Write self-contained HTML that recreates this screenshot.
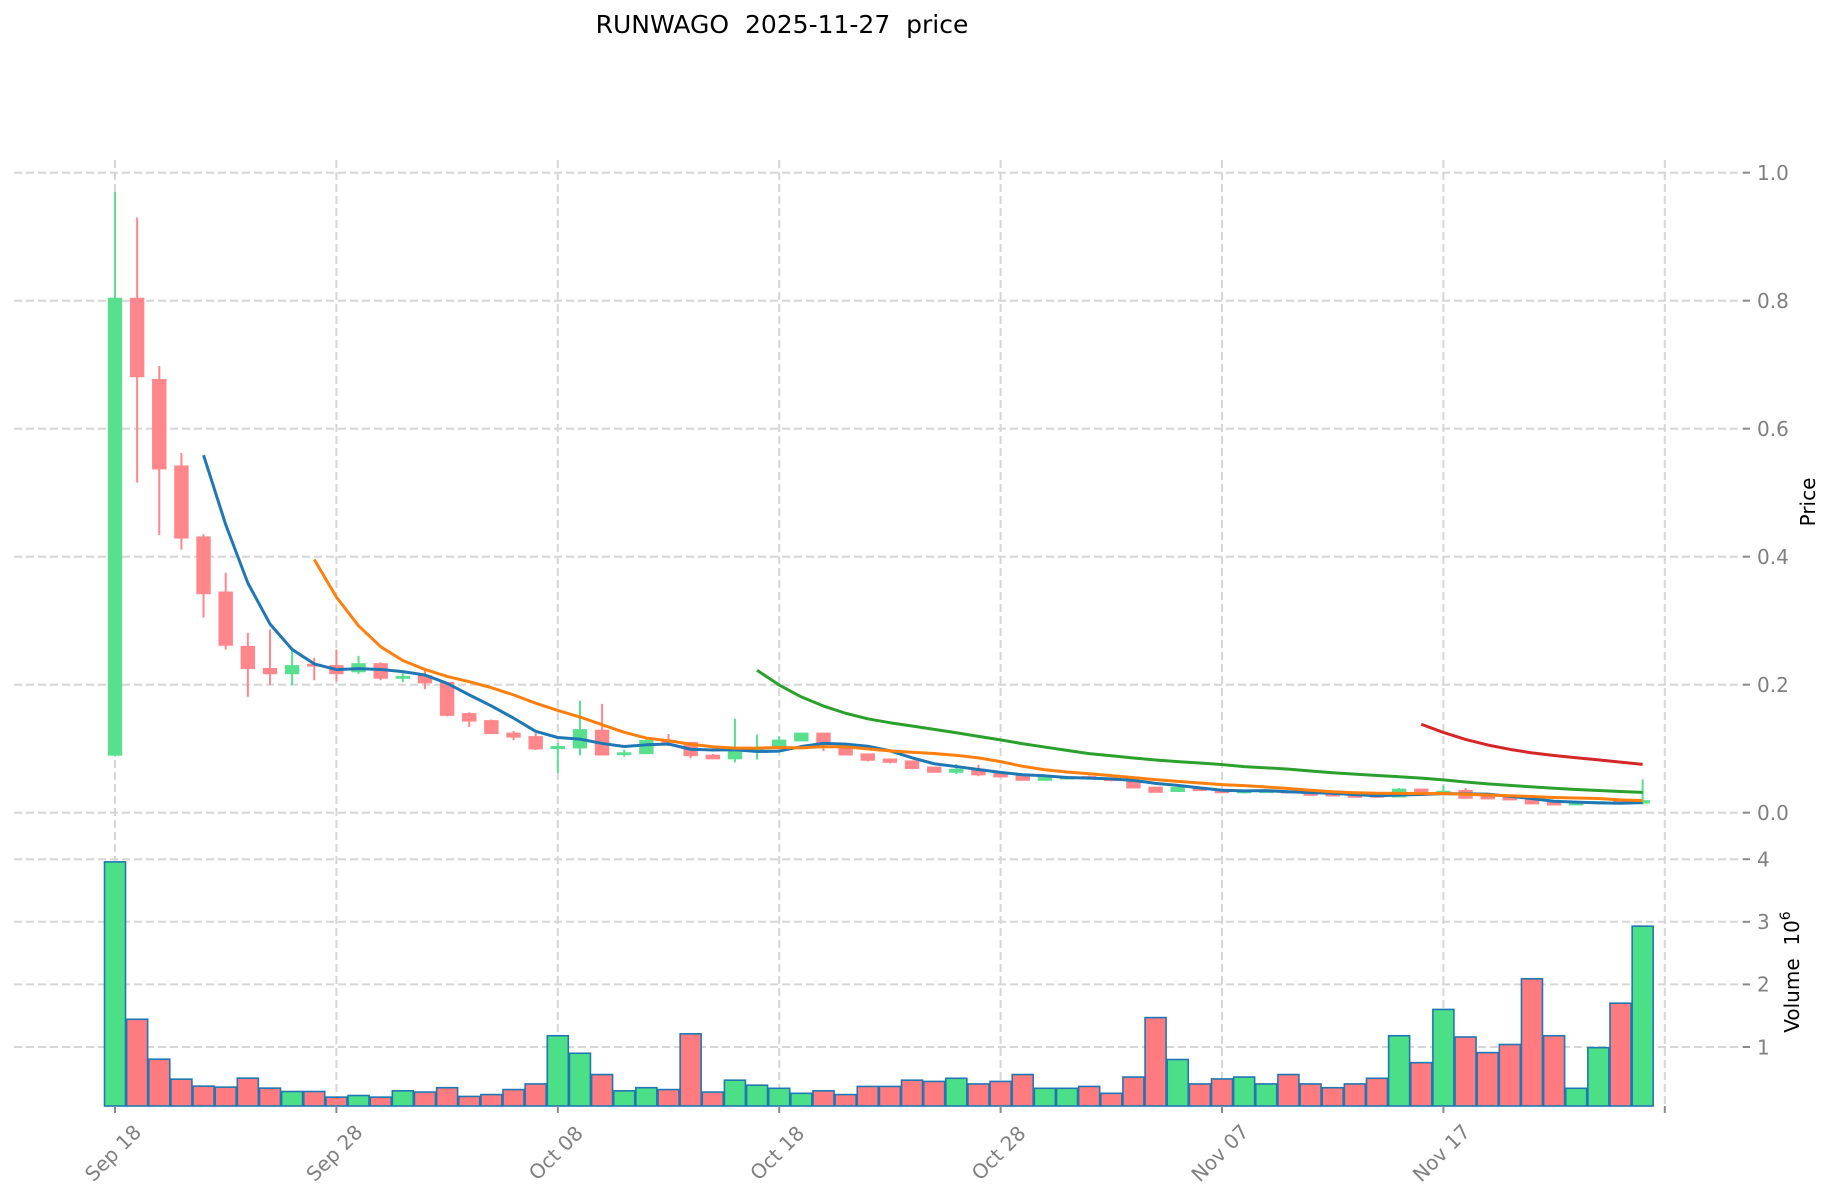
<!DOCTYPE html>
<html>
<head>
<meta charset="utf-8">
<style>
html,body{margin:0;padding:0;background:#ffffff;}
body{width:1834px;height:1202px;overflow:hidden;position:relative;font-family:"DejaVu Sans","Liberation Sans",sans-serif;}
svg{position:absolute;left:0;top:0;}
text{font-family:"DejaVu Sans","Liberation Sans",sans-serif;}
</style>
</head>
<body>
<svg id="c" width="1834" height="1202" viewBox="0 0 1834 1202" xmlns="http://www.w3.org/2000/svg">
  <rect x="0" y="0" width="1834" height="1202" fill="#ffffff"/>
  <g stroke="#d6d6d6" stroke-width="2" stroke-dasharray="8,4" fill="none">
    <line x1="14" y1="172.7" x2="1743" y2="172.7"/>
    <line x1="14" y1="300.7" x2="1743" y2="300.7"/>
    <line x1="14" y1="428.7" x2="1743" y2="428.7"/>
    <line x1="14" y1="556.7" x2="1743" y2="556.7"/>
    <line x1="14" y1="684.7" x2="1743" y2="684.7"/>
    <line x1="14" y1="812.7" x2="1743" y2="812.7"/>
    <line x1="14" y1="859.2" x2="1743" y2="859.2"/>
    <line x1="14" y1="921.8" x2="1743" y2="921.8"/>
    <line x1="14" y1="984.4" x2="1743" y2="984.4"/>
    <line x1="14" y1="1047" x2="1743" y2="1047"/>
    <line x1="115" y1="160" x2="115" y2="1106"/>
    <line x1="336.4" y1="160" x2="336.4" y2="1106"/>
    <line x1="557.8" y1="160" x2="557.8" y2="1106"/>
    <line x1="779.2" y1="160" x2="779.2" y2="1106"/>
    <line x1="1000.6" y1="160" x2="1000.6" y2="1106"/>
    <line x1="1222" y1="160" x2="1222" y2="1106"/>
    <line x1="1443.4" y1="160" x2="1443.4" y2="1106"/>
    <line x1="1664.8" y1="160" x2="1664.8" y2="1106"/>
  </g>
  <g id="vol"></g>
  <g id="cand"></g>
  <g id="ma" fill="none" stroke-width="3" stroke-linejoin="round" stroke-linecap="butt"></g>
  <g stroke="#8a8a8a" stroke-width="2">
    <line x1="1743" y1="172.7" x2="1750" y2="172.7"/>
    <line x1="1743" y1="300.7" x2="1750" y2="300.7"/>
    <line x1="1743" y1="428.7" x2="1750" y2="428.7"/>
    <line x1="1743" y1="556.7" x2="1750" y2="556.7"/>
    <line x1="1743" y1="684.7" x2="1750" y2="684.7"/>
    <line x1="1743" y1="812.7" x2="1750" y2="812.7"/>
    <line x1="1743" y1="859.2" x2="1750" y2="859.2"/>
    <line x1="1743" y1="921.8" x2="1750" y2="921.8"/>
    <line x1="1743" y1="984.4" x2="1750" y2="984.4"/>
    <line x1="1743" y1="1047" x2="1750" y2="1047"/>
    <line x1="115" y1="1106" x2="115" y2="1113"/>
    <line x1="336.4" y1="1106" x2="336.4" y2="1113"/>
    <line x1="557.8" y1="1106" x2="557.8" y2="1113"/>
    <line x1="779.2" y1="1106" x2="779.2" y2="1113"/>
    <line x1="1000.6" y1="1106" x2="1000.6" y2="1113"/>
    <line x1="1222" y1="1106" x2="1222" y2="1113"/>
    <line x1="1443.4" y1="1106" x2="1443.4" y2="1113"/>
    <line x1="1664.8" y1="1106" x2="1664.8" y2="1113"/>
  </g>
  <g fill="#808080" font-size="20">
    <text x="1757" y="180">1.0</text>
    <text x="1757" y="308">0.8</text>
    <text x="1757" y="436">0.6</text>
    <text x="1757" y="564">0.4</text>
    <text x="1757" y="692">0.2</text>
    <text x="1757" y="820">0.0</text>
    <text x="1757" y="866.5">4</text>
    <text x="1757" y="929">3</text>
    <text x="1757" y="991.7">2</text>
    <text x="1757" y="1054.3">1</text>
  </g>
  <g fill="#808080" font-size="20" text-anchor="middle">
    <text transform="translate(113,1153) rotate(-45)" dominant-baseline="central">Sep 18</text>
    <text transform="translate(334.4,1153) rotate(-45)" dominant-baseline="central">Sep 28</text>
    <text transform="translate(555.8,1153) rotate(-45)" dominant-baseline="central">Oct 08</text>
    <text transform="translate(777.2,1153) rotate(-45)" dominant-baseline="central">Oct 18</text>
    <text transform="translate(998.6,1153) rotate(-45)" dominant-baseline="central">Oct 28</text>
    <text transform="translate(1220,1153) rotate(-45)" dominant-baseline="central">Nov 07</text>
    <text transform="translate(1441.4,1153) rotate(-45)" dominant-baseline="central">Nov 17</text>
  </g>
  <text transform="translate(1815,502) rotate(-90)" text-anchor="middle" font-size="20" fill="#000">Price</text>
  <text transform="translate(1799,972) rotate(-90)" text-anchor="middle" font-size="20" fill="#000" xml:space="preserve">Volume  10<tspan font-size="14" dy="-9">6</tspan></text>
  <text x="782" y="33" text-anchor="middle" font-size="25" fill="#000" xml:space="preserve" style="white-space:pre">RUNWAGO  2025-11-27  price</text>
</svg>
<script>
(function(){
var D=[
[0.0897,0.970,0.088,0.804],
[0.804,0.930,0.516,0.681],
[0.677,0.698,0.434,0.537],
[0.542,0.562,0.411,0.429],
[0.431,0.435,0.305,0.342],
[0.345,0.375,0.255,0.2615],
[0.260,0.281,0.181,0.225],
[0.2255,0.286,0.1995,0.217],
[0.217,0.255,0.1995,0.230],
[0.232,0.242,0.207,0.229],
[0.230,0.255,0.205,0.217],
[0.220,0.245,0.217,0.233],
[0.233,0.235,0.207,0.210],
[0.210,0.218,0.204,0.213],
[0.214,0.223,0.193,0.2026],
[0.2036,0.204,0.1505,0.152],
[0.155,0.157,0.134,0.143],
[0.144,0.1456,0.123,0.1234],
[0.1245,0.128,0.113,0.118],
[0.119,0.1245,0.098,0.0995],
[0.100,0.109,0.062,0.1036],
[0.101,0.175,0.0896,0.130],
[0.129,0.170,0.090,0.090],
[0.0906,0.0985,0.0875,0.0938],
[0.092,0.115,0.092,0.113],
[0.113,0.123,0.104,0.110],
[0.110,0.110,0.085,0.089],
[0.090,0.0917,0.084,0.084],
[0.084,0.147,0.0786,0.0958],
[0.096,0.122,0.083,0.099],
[0.1036,0.119,0.1036,0.1136],
[0.112,0.1245,0.112,0.1245],
[0.1245,0.1245,0.096,0.109],
[0.1036,0.1036,0.090,0.090],
[0.092,0.092,0.080,0.0818],
[0.084,0.085,0.077,0.0786],
[0.081,0.081,0.068,0.069],
[0.0714,0.0714,0.063,0.063],
[0.063,0.076,0.0604,0.068],
[0.068,0.075,0.057,0.059],
[0.063,0.063,0.0557,0.0557],
[0.0578,0.0578,0.0505,0.0505],
[0.0505,0.056,0.0505,0.055],
[0.053,0.057,0.052,0.055],
[0.056,0.058,0.053,0.054],
[0.054,0.055,0.049,0.050],
[0.049,0.049,0.0385,0.0385],
[0.040,0.040,0.0317,0.0317],
[0.033,0.040,0.033,0.0395],
[0.039,0.039,0.0344,0.0344],
[0.036,0.036,0.031,0.031],
[0.031,0.035,0.030,0.034],
[0.032,0.035,0.031,0.0335],
[0.0335,0.034,0.031,0.031],
[0.031,0.031,0.027,0.027],
[0.030,0.030,0.026,0.026],
[0.028,0.028,0.024,0.024],
[0.0275,0.0275,0.024,0.024],
[0.0245,0.0385,0.0245,0.037],
[0.037,0.037,0.031,0.031],
[0.031,0.0425,0.031,0.033],
[0.035,0.0386,0.0224,0.0224],
[0.0255,0.0255,0.0214,0.0214],
[0.024,0.024,0.0198,0.0198],
[0.0214,0.0214,0.0136,0.0136],
[0.016,0.016,0.012,0.012],
[0.012,0.0155,0.012,0.0155],
[0.0155,0.017,0.015,0.016],
[0.0185,0.0185,0.0165,0.0165],
[0.015,0.052,0.013,0.019]
];
var V=[3.957,1.443,0.805,0.486,0.375,0.359,0.502,0.343,0.289,0.289,
0.199,0.225,0.199,0.30,0.28,0.35,0.21,0.24,0.32,0.41,
1.18,0.90,0.56,0.30,0.35,0.32,1.21,0.28,0.47,0.39,
0.34,0.26,0.30,0.24,0.37,0.37,0.47,0.45,0.50,0.41,
0.45,0.56,0.34,0.34,0.37,0.26,0.52,1.47,0.80,0.41,
0.49,0.52,0.41,0.56,0.41,0.35,0.41,0.50,1.18,0.75,
1.60,1.16,0.91,1.04,2.09,1.18,0.34,0.99,1.70,2.93];
var NS="http://www.w3.org/2000/svg";
function X(i){return 115+22.14*i;}
function Y(p){return 812.7-640*p;}
function VY(v){return 1109.6-62.6*v;}
function el(tag,attrs,parent){var e=document.createElementNS(NS,tag);for(var k in attrs)e.setAttribute(k,attrs[k]);parent.appendChild(e);return e;}
var gv=document.getElementById('vol'),gc=document.getElementById('cand'),gm=document.getElementById('ma');
var UPC='#58e08f',DNC='#ff868a',UPV='#4bdf87',DNV='#ff7b7f';
for(var i=0;i<D.length;i++){
  var d=D[i],up=d[3]>=d[0],x=X(i);
  var vt=VY(V[i]);
  el('rect',{x:(x-10.5).toFixed(2),y:vt.toFixed(2),width:21,height:(1106-vt).toFixed(2),fill:up?UPV:DNV,stroke:'#1f77b4','stroke-width':1.6},gv);
  var c=up?UPC:DNC;
  el('line',{x1:x.toFixed(2),y1:Y(d[1]).toFixed(2),x2:x.toFixed(2),y2:Y(d[2]).toFixed(2),stroke:c,'stroke-width':2},gc);
  var t=Y(Math.max(d[0],d[3])),b=Y(Math.min(d[0],d[3]));
  var h=Math.max(b-t,2);
  el('rect',{x:(x-6.8).toFixed(2),y:(h===2?(t+b)/2-1:t).toFixed(2),width:13.6,height:h.toFixed(2),fill:c,stroke:c,'stroke-width':0.8},gc);
}
var mas=[[5,'#1f77b4'],[10,'#ff7f0e'],[30,'#2ca02c'],[60,'#d62728']];
mas.forEach(function(m){
  var n=m[0],pts=[];
  for(var i=n-1;i<D.length;i++){
    var s=0;for(var j=i-n+1;j<=i;j++)s+=D[j][3];
    pts.push(X(i).toFixed(2)+','+Y(s/n).toFixed(2));
  }
  el('polyline',{points:pts.join(' '),stroke:m[1]},gm);
});
})();
</script>
</body>
</html>
